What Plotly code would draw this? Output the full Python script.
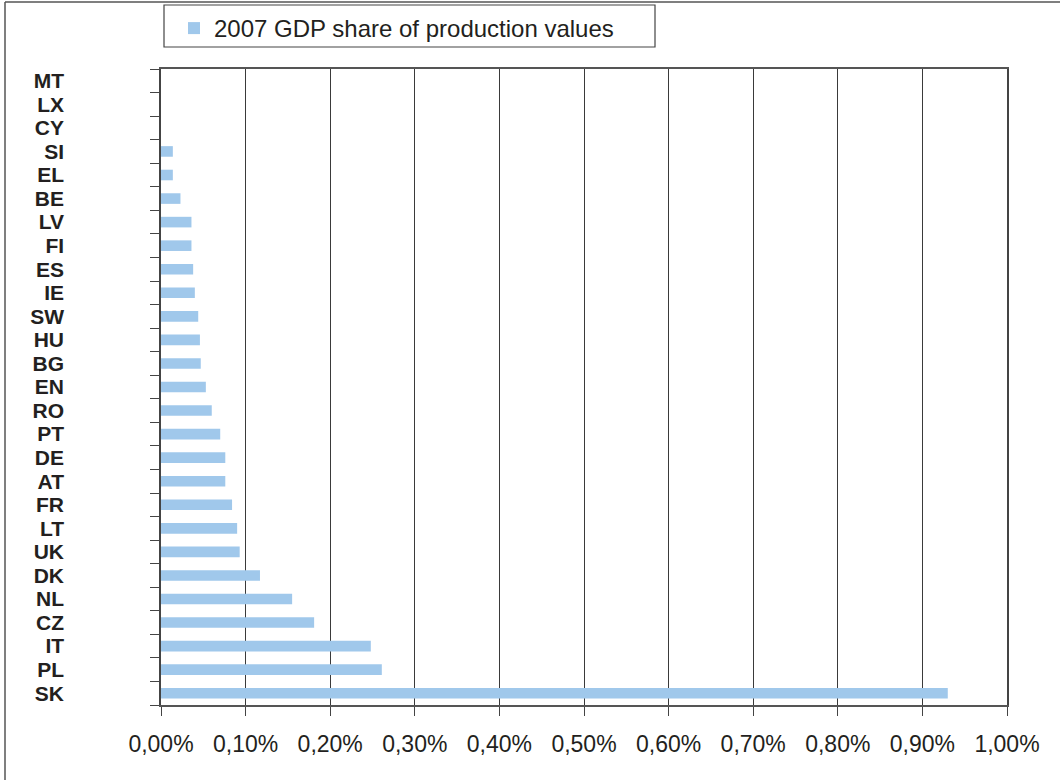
import plotly.graph_objects as go

# Categories from bottom to top
countries = ["SK", "PL", "IT", "CZ", "NL", "DK", "UK", "LT", "FR", "AT", "DE", "PT", "RO",
             "EN", "BG", "HU", "SW", "IE", "ES", "FI", "LV", "BE", "EL", "SI", "CY", "LX", "MT"]
# GDP share in percent
gdp_share_pct = [0.930, 0.261, 0.248, 0.181, 0.155, 0.117, 0.093, 0.090, 0.084, 0.076, 0.076,
                 0.070, 0.060, 0.053, 0.047, 0.046, 0.044, 0.040, 0.038, 0.036, 0.036, 0.023,
                 0.014, 0.014, 0.0, 0.0, 0.0]
series_name = "2007 GDP share of production values"

values = [v / 100 for v in gdp_share_pct]

W, H = 1060, 780
L, R, T, B = 161, 1060 - 1007, 69, 780 - 705
pw, ph = W - L - R, H - T - B

def px(x):
    return (x - L) / pw

def py(y):
    return (H - B - y) / ph

FONT = "Liberation Sans, Arial, sans-serif"
TXT = "#231F20"

fig = go.Figure()
fig.add_trace(go.Bar(
    y=countries, x=values, orientation="h",
    marker=dict(color="#A0C8EB", line=dict(width=0)),
    width=0.45, name=series_name, showlegend=True,
))

fig.update_layout(
    width=W, height=H,
    margin=dict(l=L, r=R, t=T, b=B, pad=0, autoexpand=False),
    paper_bgcolor="white", plot_bgcolor="white",
    separators=",.",
    font=dict(family=FONT, color=TXT),
    showlegend=True,
    legend=dict(
        x=px(174), y=py(6), xanchor="left", yanchor="top",
        bgcolor="rgba(0,0,0,0)", borderwidth=0,
        font=dict(size=24, color=TXT, family=FONT),
    ),
    xaxis=dict(
        range=[0, 0.01], dtick=0.001, tickformat=".2%",
        showgrid=True, gridcolor="#3a3a3a", gridwidth=1,
        showline=True, linecolor="#555555", linewidth=1.5, mirror=True,
        ticks="outside", ticklen=9, tickcolor="#444444",
        tickfont=dict(size=23, color=TXT, family=FONT),
        ticklabelstandoff=9,
        zeroline=False, fixedrange=True, automargin=False,
    ),
    yaxis=dict(
        type="category", categoryorder="array", categoryarray=countries,
        tickmode="array", tickvals=countries, ticktext=countries,
        range=[-0.5, len(countries) - 0.5],
        showgrid=False, zeroline=False,
        showline=True, linecolor="#444444", linewidth=1.5, mirror=True,
        ticks="outside", ticklen=9, tickcolor="#444444", tickson="boundaries",
        tickfont=dict(size=21, color=TXT, family=FONT, weight="bold"),
        ticklabelstandoff=91,
        fixedrange=True, automargin=False,
    ),
    shapes=[
        # legend box
        dict(type="rect", xref="paper", yref="paper",
             x0=px(164), x1=px(655), y0=py(47), y1=py(5),
             line=dict(color="#444444", width=1.2), fillcolor="rgba(0,0,0,0)"),
        # outer frame (top and left edges)
        dict(type="line", xref="paper", yref="paper",
             x0=px(5), x1=px(1062), y0=py(2), y1=py(2),
             line=dict(color="#555555", width=1.5)),
        dict(type="line", xref="paper", yref="paper",
             x0=px(5), x1=px(5), y0=py(2), y1=py(782),
             line=dict(color="#555555", width=1.5)),
    ],
)

fig.write_html("out.html", config={"displayModeBar": False},
               post_script="document.body.style.margin='0';document.body.style.overflow='hidden';")
